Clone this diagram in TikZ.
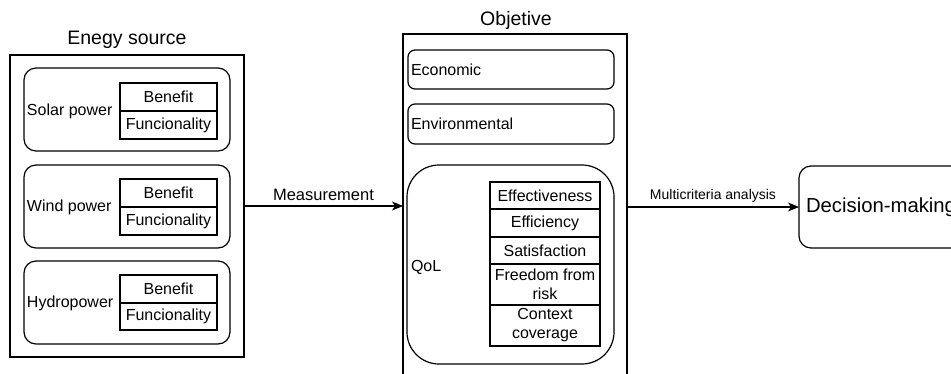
\documentclass[tikz,border=0pt]{standalone}
\usepackage{fontspec}
\setmainfont{Liberation Sans}
\usetikzlibrary{arrows.meta}
\begin{document}
\begin{tikzpicture}[x=1pt,y=-1pt,line width=1.2pt]
\tikzset{
  base/.style={font=\fontsize{16}{19}\selectfont, inner sep=0pt, outer sep=0pt},
  frame/.style={base, draw, rectangle, anchor=north west},
  rbox/.style={frame, rounded corners=12pt},
  cell/.style={frame, align=center},
  title/.style={base, font=\fontsize{19.5}{22}\selectfont},
  lbl/.style={base, anchor=west},
  arr/.style={-{Stealth[length=11pt,width=9pt,inset=3pt]}, line width=1.2pt},
}
\clip (0,0) rectangle (951,373);
\fill[white] (0,0) rectangle (951,373);

% Energy source
\node[title] (srct) at (127,40) {Enegy source};
\node[frame, minimum width=234pt, minimum height=302pt] (src) at (10,55) {};

\node[rbox, minimum width=206pt, minimum height=83pt] (solar) at (24,68) {};
\node[lbl] (solart) at (27,111) {Solar power};
\node[cell, minimum width=97pt, minimum height=28pt] (solb) at (120,83) {Benefit};
\node[cell, minimum width=97pt, minimum height=28pt] (solf) at (120,111) {Funcionality};

\node[rbox, minimum width=206pt, minimum height=83pt] (wind) at (24,165) {};
\node[lbl] (windt) at (27,207) {Wind power};
\node[cell, minimum width=97pt, minimum height=28pt] (winb) at (120,179) {Benefit};
\node[cell, minimum width=97pt, minimum height=28pt] (winf) at (120,207) {Funcionality};

\node[rbox, minimum width=206pt, minimum height=83pt] (hydro) at (24,261) {};
\node[lbl] (hydrot) at (27,303) {Hydropower};
\node[cell, minimum width=97pt, minimum height=28pt] (hydb) at (120,275) {Benefit};
\node[cell, minimum width=97pt, minimum height=27pt] (hydf) at (120,303) {Funcionality};

% Objective
\node[title] (objt) at (516,20) {Objetive};
\node[frame, minimum width=224pt, minimum height=344pt] (obj) at (403,34) {};

\node[frame, rounded corners=7pt, minimum width=205pt, minimum height=39pt, text width=200pt, align=left, inner xsep=3pt] (eco) at (408,50) {Economic};
\node[frame, rounded corners=7pt, minimum width=205pt, minimum height=40pt, text width=200pt, align=left, inner xsep=3pt] (env) at (408,104) {Environmental};

\node[frame, rounded corners=32pt, minimum width=207pt, minimum height=199pt] (qol) at (407,165) {};
\node[lbl] (qolt) at (411,267) {QoL};
\node[cell, minimum width=110pt, minimum height=27pt] (q1) at (490,182) {Effectiveness};
\node[cell, minimum width=110pt, minimum height=28pt] (q2) at (490,209) {Efficiency};
\node[cell, minimum width=110pt, minimum height=27pt] (q3) at (490,237) {Satisfaction};
\node[cell, minimum width=110pt, minimum height=41pt] (q4) at (490,264) {Freedom from\\risk};
\node[cell, minimum width=110pt, minimum height=41pt] (q5) at (490,305) {Context\\coverage};

% Decision
\node[frame, rounded corners=12pt, minimum width=210pt, minimum height=82pt, text width=196pt, align=left, inner xsep=7pt, font=\fontsize{20.3}{24}\selectfont] (dec) at (799,166) {Decision-making};

% Connectors
\draw[arr] (src.east) -- node[base, above=5pt, font=\fontsize{16.5}{19}\selectfont] (m1) {Measurement} (src.east -| obj.west);
\draw[arr] (obj.east |- dec.west) -- node[base, above=5pt, font=\fontsize{14}{16}\selectfont] (m2) {Multicriteria analysis} (dec.west);
\end{tikzpicture}
\end{document}
